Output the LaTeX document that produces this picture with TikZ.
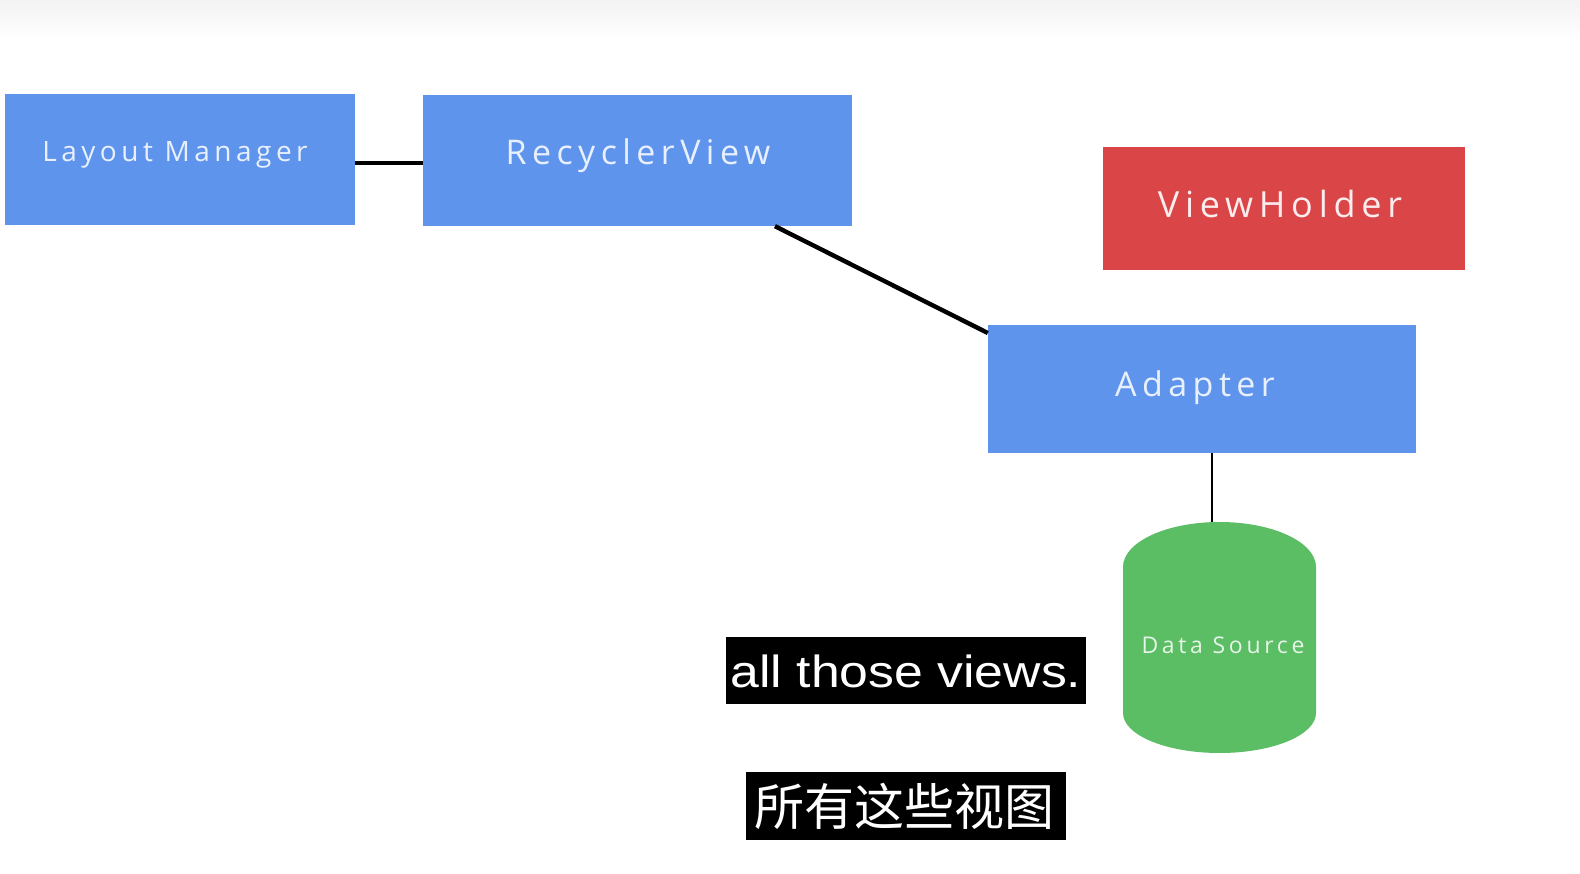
\documentclass[tikz,border=0pt]{standalone}
\usepackage{graphicx}
\usepackage{fontspec}
\newfontfamily\labelfont[LetterSpace=16]{Open Sans}
\newfontfamily\subfont{Liberation Sans}
\newfontfamily\cjkfont{Noto Sans CJK SC}
\definecolor{boxblue}{HTML}{5F94EC}
\definecolor{boxred}{HTML}{DA4548}
\definecolor{boxgreen}{HTML}{5BBD64}
\definecolor{lbltext}{HTML}{E8F0FD}
\definecolor{topgray}{HTML}{F3F3F3}
\tikzset{
  box/.style={draw=none, inner sep=0pt, anchor=center},
  bluebox/.style={box, fill=boxblue},
  redbox/.style={box, fill=boxred},
  lbl/.style={inner sep=0pt, anchor=base, text=lbltext, font=\labelfont},
  link/.style={draw=black, line width=3.2pt},
  thicklink/.style={draw=black, line width=4.4pt},
  thinlink/.style={draw=black, line width=2.4pt},
  subbox/.style={fill=black, inner sep=0pt, anchor=center},
}
\begin{document}
\begin{tikzpicture}[x=1pt,y=-1pt]
\useasboundingbox (0,0) rectangle (1580,874);
\fill[white] (0,0) rectangle (1580,874);
\shade[top color=topgray, bottom color=white] (0,0) rectangle (1580,40);

% boxes
\node[bluebox, minimum width=350pt, minimum height=131pt] (lm) at (180,159.5) {};
\node[bluebox, minimum width=429pt, minimum height=131pt] (rv) at (637.5,160.5) {};
\node[redbox, minimum width=362pt, minimum height=123pt] (vh) at (1284,208.5) {};
\node[bluebox, minimum width=428pt, minimum height=128pt] (ad) at (1202,389) {};

% labels
\node[lbl, font=\labelfont\fontsize{28}{28}\selectfont] (lmt) at (175,162) {Layout Manager};
\node[lbl, font=\labelfont\fontsize{34}{34}\selectfont] (rvt) at (638,165) {RecyclerView};
\node[lbl, font=\labelfont\fontsize{36}{36}\selectfont, text=white!90!boxred] (vht) at (1280,218) {ViewHolder};
\node[lbl, font=\labelfont\fontsize{34}{34}\selectfont] (adt) at (1195,397) {Adapter};

% data source cylinder
\fill[boxgreen] (1123,713) -- (1123,567) arc[start angle=180, end angle=0, x radius=96.5, y radius=-45] -- (1316,713) arc[start angle=0, end angle=-180, x radius=96.5, y radius=-40] -- cycle;
\coordinate (dstop) at (1212,522);
\node[lbl, font=\labelfont\fontsize{23}{23}\selectfont, text=white!85!boxgreen] (dst) at (1223,653) {Data Source};

% connectors
\draw[link] (lm.east |- 0,163) -- (rv.west |- 0,163);
\draw[thicklink] (rv.south -| 775,0) -- (ad.west |- 0,333);
\draw[thinlink] (ad.south -| dstop) -- (dstop);

% subtitles
\node[subbox, minimum width=360pt, minimum height=67pt] (sub1) at (906,670) {};
\node[inner sep=0pt, anchor=base, text=white, font=\subfont\fontsize{45}{45}\selectfont] (sub1t) at (906,687) {\scalebox{1.15}[1]{all those views.}};
\node[subbox, minimum width=320pt, minimum height=68pt] (sub2) at (906,806) {};
\node[inner sep=0pt, anchor=center, text=white, font=\cjkfont\fontsize{50}{50}\selectfont] (sub2t) at (904,806) {所有这些视图};
\end{tikzpicture}
\end{document}
